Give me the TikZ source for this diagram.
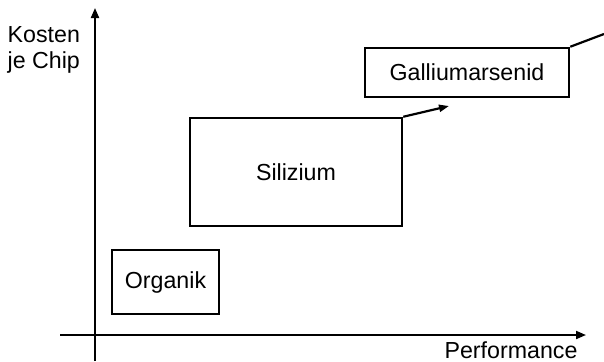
\documentclass[tikz,border=0pt]{standalone}
\usepackage{fontspec}
\setmainfont{Liberation Sans}
\usetikzlibrary{positioning,arrows.meta}

\begin{document}
\begin{tikzpicture}[x=0.5pt,y=-0.5pt,
  material/.style={draw,line width=1.25pt,inner sep=0pt,font=\fontsize{11.6}{13}\selectfont},
  axis/.style={line width=1pt,-{Triangle[length=5pt,width=4pt]}},
  trend/.style={line width=1.1pt,-{Triangle[length=5pt,width=3.5pt]}}]
\def\ox{95}
\def\oy{335}

\useasboundingbox (0,0) rectangle (604,361);

\coordinate(ybot) at (\ox, 361);
\coordinate(ytop) at (\ox, 8);
\coordinate(xleft) at (60, \oy);
\coordinate(xright) at (586, \oy);

\node[material, minimum width=53.5pt, minimum height=32pt] (org) at (165.5, 282) {Organik};
\node[material, minimum width=106pt, minimum height=54pt] (si) at (296, 172) {Silizium};
\node[material, minimum width=102pt, minimum height=24.5pt] (gaas) at (467, 72.5) {Galliumarsenid};

\coordinate(sitip) at (449, 106);
\coordinate(gaastip) at (604, 34);

\node[align=right, anchor=east, font=\fontsize{11.6}{13}\selectfont] (kosten) at (87, 50) {Kosten\\je Chip};
\node[font=\fontsize{11.6}{13}\selectfont, inner sep=0pt] (perf) at (511, 350) {Performance};

\draw[axis] (ybot) -- (ytop);
\draw[axis] (xleft) -- (xright);
\draw[trend] (si.north east) -- (sitip);
\draw[line width=1.1pt] (gaas.north east) -- (gaastip);

\end{tikzpicture}
\end{document}
